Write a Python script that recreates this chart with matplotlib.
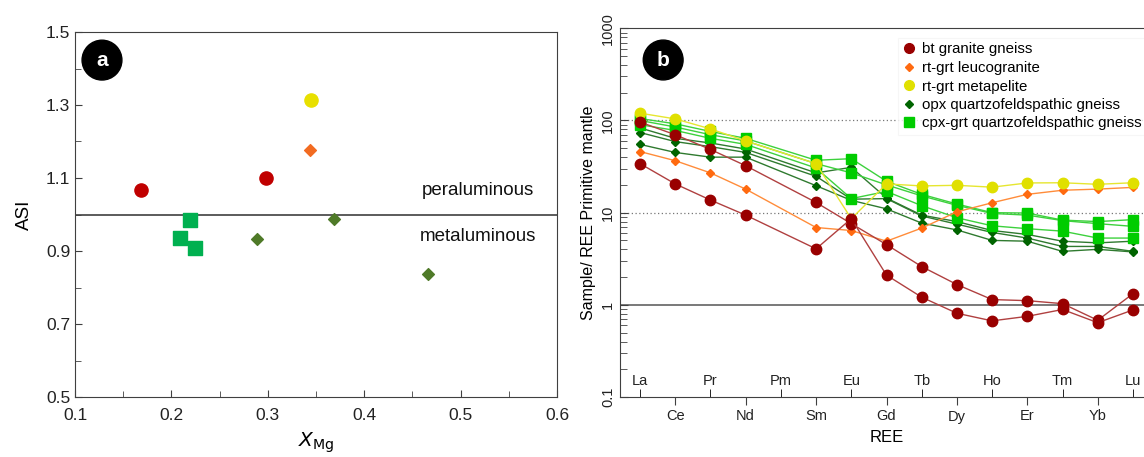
import numpy as np
import matplotlib
matplotlib.use('Agg')
import matplotlib.pyplot as plt
from matplotlib.lines import Line2D
from matplotlib.ticker import LogLocator, NullFormatter, MultipleLocator, FixedLocator

plt.rcParams['font.family'] = ['Liberation Sans', 'DejaVu Sans']

nan = np.nan

# panel a: ASI vs XMg
bt_xmg = [0.168, 0.298]
bt_asi = [1.066, 1.099]
leuco_xmg = [0.344]
leuco_asi = [1.177]
pelite_xmg = [0.345]
pelite_asi = [1.313]
cpx_xmg = [0.219, 0.209, 0.224]
cpx_asi = [0.985, 0.936, 0.909]
opx_xmg = [0.289, 0.369, 0.466]
opx_asi = [0.934, 0.987, 0.836]

# panel b: REE normalised to primitive mantle
ree = ['La', 'Ce', 'Pr', 'Nd', 'Pm', 'Sm', 'Eu', 'Gd', 'Tb', 'Dy', 'Ho', 'Er', 'Tm', 'Yb', 'Lu']
bt1 = [96, 70, 48.5, 32.3, nan, 12.9, 7.6, 4.5, 2.6, 1.66, 1.14, 1.11, 1.03, 0.68, 1.32]
bt2 = [34, 20.5, 13.7, 9.4, nan, 4.05, 8.6, 2.1, 1.21, 0.81, 0.67, 0.75, 0.89, 0.64, 0.88]
leuco = [46, 36.6, 27, 18, nan, 6.9, 6.4, 4.9, 6.8, 10.2, 12.8, 15.8, 17.5, 18, 18.8]
pelite = [120, 104, 81, 60, nan, 34, 8.6, 20.5, 19.5, 19.8, 18.9, 21, 21.1, 20.3, 21.1]
opx1 = [83, 64, 57, 49, nan, 27, 31, 14.4, 9.4, 8.0, 6.4, 5.8, 4.9, 4.7, 4.9]
opx2 = [74, 59, 52, 45, nan, 24.8, 14, 14.2, 9.2, 7.5, 6.1, 5.3, 4.3, 4.3, 3.8]
opx3 = [55, 45, 40, 40, nan, 19.6, 13.6, 11, 7.7, 6.5, 5.0, 4.9, 3.8, 4.0, 3.75]
cpx1 = [105, 92, 76, 64, nan, 37, 38.5, 21.9, 15.8, 12.4, 10, 9.9, 8.3, 8.0, 8.4]
cpx2 = [100, 85, 70, 60, nan, 34, 27, 20, 15.2, 12, 9.8, 9.4, 8.2, 7.6, 7.1]
cpx3 = [90, 78, 64, 55, nan, 30.5, 14.2, 17, 11.9, 8.8, 7.2, 6.7, 6.3, 5.3, 5.3]

fig = plt.figure(figsize=(11.44, 4.57), dpi=100)
axa = fig.add_axes([75/1144, 1-397/457, 482/1144, 365/457])
axb = fig.add_axes([620/1144, 1-397/457, 533/1144, 368.7/457])

spine_c = '#404040'

# ---------- panel a ----------
axa.axhline(1.0, color='#404040', lw=1.2, zorder=1)
axa.scatter(bt_xmg, bt_asi, s=90, marker='o', color='#c00000', zorder=3)
axa.scatter(leuco_xmg, leuco_asi, s=36, marker='D', color='#f26b21', zorder=3)
axa.scatter(pelite_xmg, pelite_asi, s=90, marker='o', color='#e8e000', zorder=3)
axa.scatter(cpx_xmg, cpx_asi, s=90, marker='s', color='#00b050', zorder=3)
axa.scatter(opx_xmg, opx_asi, s=36, marker='D', color='#4f7a28', zorder=3)
axa.set_xlim(0.1, 0.6)
axa.set_ylim(0.5, 1.5)
axa.xaxis.set_major_locator(MultipleLocator(0.1))
axa.xaxis.set_minor_locator(MultipleLocator(0.05))
axa.yaxis.set_minor_locator(MultipleLocator(0.1))
axa.set_yticks([0.5, 0.7, 0.9, 1.1, 1.3, 1.5])
axa.tick_params(which='both', direction='in', labelsize=12.5, colors=spine_c, labelcolor='#222222')
axa.tick_params(which='major', length=5)
axa.tick_params(which='minor', length=4)
axa.tick_params(axis='x', pad=8)
for s in axa.spines.values():
    s.set_color(spine_c)
axa.text(0.518, 1.067, 'peraluminous', fontsize=13.5, ha='center', va='center', color='#111111')
axa.text(0.518, 0.941, 'metaluminous', fontsize=13.5, ha='center', va='center', color='#111111')
axa.set_ylabel('ASI', fontsize=13.5, labelpad=9)
axa.set_xlabel(r'$X_{\mathrm{Mg}}$', fontsize=14.5, labelpad=5)
axa.text(0.056, 0.923, 'a', transform=axa.transAxes, fontsize=15, fontweight='bold',
         color='white', ha='center', va='center',
         bbox=dict(boxstyle='circle,pad=0.5', fc='black', ec='black'))

# ---------- panel b ----------
x = np.arange(len(ree))


def draw(vals, color, lcolor, marker, ms):
    v = np.array(vals, dtype=float)
    ok = ~np.isnan(v)
    axb.plot(x[ok], v[ok], color=lcolor, lw=1.0, marker=marker, ms=ms,
             mfc=color, mec=color, zorder=3)


axb.axhline(1, color='#555555', lw=1.1, zorder=1)
axb.axhline(10, color='#777777', lw=0.9, ls=(0, (1, 2)), zorder=1)
axb.axhline(100, color='#777777', lw=0.9, ls=(0, (1, 2)), zorder=1)

for v in [opx1, opx2, opx3]:
    draw(v, '#006400', '#2f7a2f', 'D', 4.5)
for v in [cpx1, cpx2, cpx3]:
    draw(v, '#00cc00', '#3dd13d', 's', 7)
draw(leuco, '#ff6a10', '#ff8c3a', 'D', 4.5)
draw(pelite, '#e0e000', '#e6e630', 'o', 7.5)
for v in [bt1, bt2]:
    draw(v, '#990000', '#b04040', 'o', 7.5)

axb.set_yscale('log')
axb.set_ylim(0.1, 1000)
axb.set_xlim(-0.57, 14.57)
axb.yaxis.set_minor_locator(LogLocator(base=10, subs=np.arange(2, 10), numticks=10))
axb.yaxis.set_minor_formatter(NullFormatter())
axb.set_yticks([0.1, 1, 10, 100, 1000])
axb.set_yticklabels(['0.1', '1', '10', '100', '1000'], rotation=90, va='center')
axb.tick_params(axis='y', which='both', direction='in', labelsize=10.5, colors=spine_c,
                labelcolor='#222222', right=False)
axb.tick_params(axis='y', which='major', length=6)
axb.tick_params(axis='y', which='minor', length=5)

odd = x[1::2]
even = x[0::2]
axb.xaxis.set_major_locator(FixedLocator(odd))
axb.set_xticklabels([ree[i] for i in odd])
axb.xaxis.set_minor_locator(FixedLocator(even))
axb.tick_params(axis='x', which='major', direction='out', length=6, labelsize=10.5,
                colors=spine_c, labelcolor='#222222', pad=3)
axb.tick_params(axis='x', which='minor', direction='in', length=6)
for i in even:
    axb.text(i, 0.125, ree[i], fontsize=10.5, ha='center', va='bottom', color='#222222')

for s in axb.spines.values():
    s.set_color(spine_c)
axb.spines['right'].set_visible(False)
axb.set_xlabel('REE', fontsize=12, labelpad=5)
axb.set_ylabel('Sample/ REE Primitive mantle', fontsize=11.5, labelpad=4)
axb.text(0.081, 0.914, 'b', transform=axb.transAxes, fontsize=15, fontweight='bold',
         color='white', ha='center', va='center',
         bbox=dict(boxstyle='circle,pad=0.5', fc='black', ec='black'))

handles = [
    Line2D([], [], ls='none', marker='o', ms=7, color='#990000'),
    Line2D([], [], ls='none', marker='D', ms=4.5, color='#ff6a10'),
    Line2D([], [], ls='none', marker='o', ms=7, color='#e0e000'),
    Line2D([], [], ls='none', marker='D', ms=4.5, color='#006400'),
    Line2D([], [], ls='none', marker='s', ms=6.5, color='#00cc00'),
]
labels = ['bt granite gneiss', 'rt-grt leucogranite', 'rt-grt metapelite',
          'opx quartzofeldspathic gneiss', 'cpx-grt quartzofeldspathic gneiss']
leg = fig.legend(handles, labels, loc='upper left', bbox_to_anchor=(898/1144, 1-38/457),
                 fontsize=10.8, frameon=True, fancybox=False, edgecolor='#f4f4f4',
                 handlelength=0.8, handletextpad=0.5, labelspacing=0.3,
                 borderpad=0.3, borderaxespad=0)
leg.get_frame().set_linewidth(0.8)

fig.savefig('out.png', dpi=100)
